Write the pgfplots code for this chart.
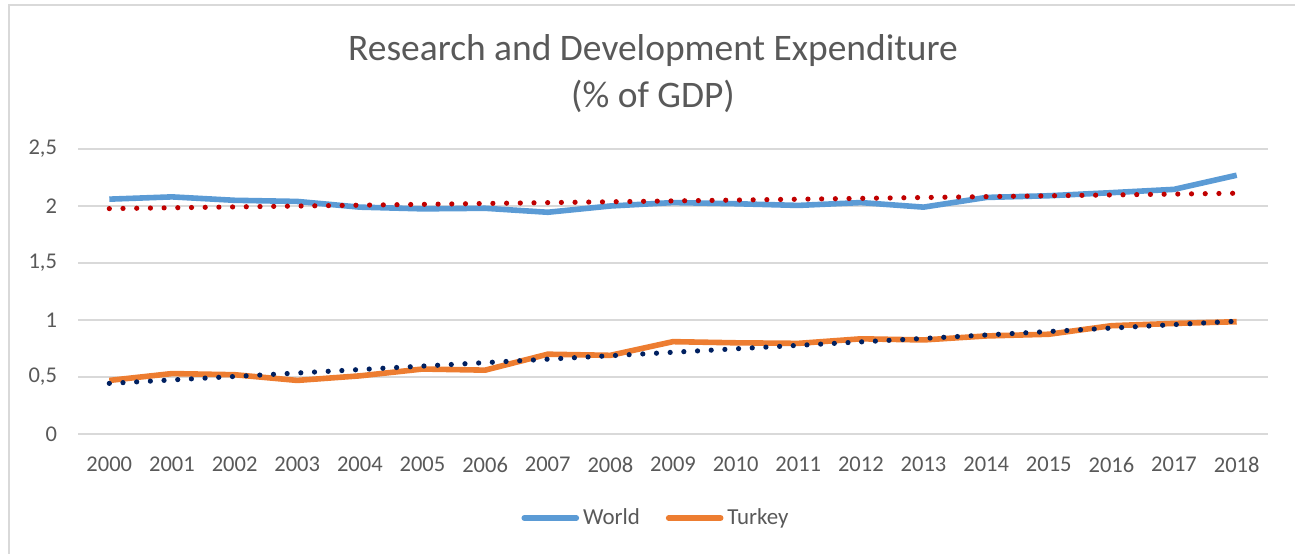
\documentclass[border=0pt]{standalone}
\usepackage{pgfplots}
\pgfplotsset{compat=1.18}
\usepackage{fontspec}
\setmainfont{Carlito}
\definecolor{txt}{HTML}{595959}
\definecolor{gridc}{HTML}{D9D9D9}
\definecolor{worldc}{HTML}{5B9BD5}
\definecolor{turkc}{HTML}{ED7D31}
\definecolor{wtrend}{HTML}{C00000}
\definecolor{ttrend}{HTML}{002060}
\begin{document}
\begin{tikzpicture}
\useasboundingbox (-39bp,-60bp) rectangle (608.5bp,217bp);
\draw[gridc, line width=0.8bp] (-34.5bp,-61bp) -- (-34.5bp,214.5bp) -- (609bp,214.5bp);
\begin{axis}[
  at={(0,0)}, anchor=south west,
  scale only axis, width=595bp, height=142.5bp,
  xmin=1999.5, xmax=2018.5, ymin=0, ymax=2.5,
  xtick={2000,2001,...,2018},
  ytick={0,0.5,1,1.5,2,2.5},
  xticklabel={\pgfmathprintnumber[fixed,1000 sep={}]{\tick}},
  /pgf/number format/use comma,
  /pgf/number format/assume math mode=true,
  axis line style={draw=none},
  tick style={draw=none},
  ymajorgrids, grid style={gridc, line width=0.9bp},
  ticklabel style={font=\fontsize{11.3}{13}\selectfont, text=txt},
  xticklabel style={yshift=-8bp},
  yticklabel style={xshift=-7bp},
  title={Research and Development Expenditure\\(\% of GDP)},
  title style={at={(0.5,1)}, anchor=center, yshift=31.75bp, xshift=-10bp, align=center,
    font=\fontsize{18.8}{23.5}\selectfont, text=txt},
  legend style={at={(0.5,0)}, anchor=center, yshift=-42bp, xshift=-8bp, draw=none,
    legend columns=2, font=\fontsize{11.5}{13}\selectfont, text=txt,
    /tikz/every even column/.append style={column sep=11bp}},
  legend image code/.code={\draw[#1, line cap=round] (0bp,0bp) -- (26bp,0bp);},
]
\addplot[worldc, line width=2.8bp, line join=round] coordinates {
(2000,2.06) (2001,2.08) (2002,2.05) (2003,2.04) (2004,1.99) (2005,1.975)
(2006,1.98) (2007,1.945) (2008,2.0) (2009,2.03) (2010,2.02) (2011,2.005)
(2012,2.03) (2013,1.99) (2014,2.075) (2015,2.09) (2016,2.117) (2017,2.146) (2018,2.27)};
\addlegendentry{World}
\addplot[turkc, line width=2.8bp, line join=round] coordinates {
(2000,0.47) (2001,0.53) (2002,0.52) (2003,0.47) (2004,0.51) (2005,0.57)
(2006,0.56) (2007,0.70) (2008,0.69) (2009,0.81) (2010,0.80) (2011,0.795)
(2012,0.835) (2013,0.825) (2014,0.86) (2015,0.875) (2016,0.95) (2017,0.97) (2018,0.985)};
\addlegendentry{Turkey}
\addplot[wtrend, line width=2.6bp, line cap=round, dash pattern=on 0bp off 6.85bp, forget plot] coordinates {
(2000,1.977) (2018,2.112)};
\addplot[ttrend, line width=2.6bp, line cap=round, dash pattern=on 0bp off 6.85bp, forget plot] coordinates {
(2000,0.444) (2018,0.99)};
\end{axis}
\end{tikzpicture}
\end{document}
